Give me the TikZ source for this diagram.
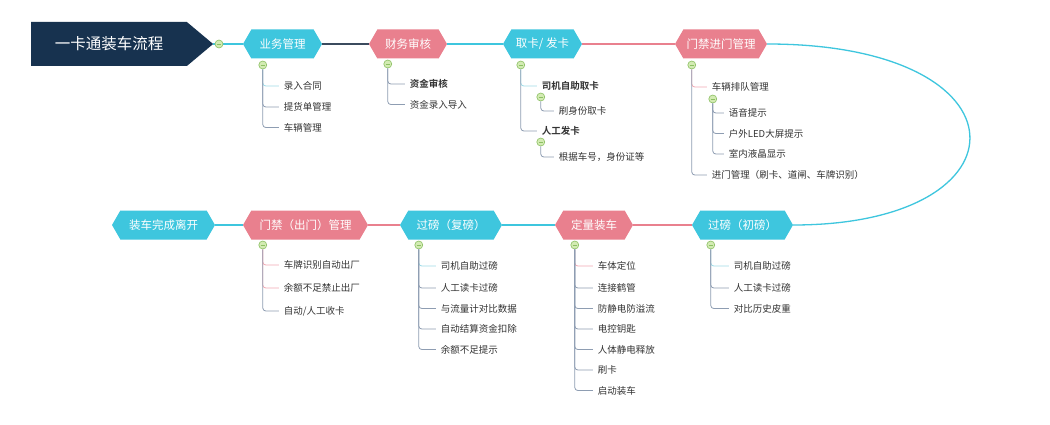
\documentclass[tikz,border=0pt]{standalone}
\usepackage{fontspec}
\setmainfont{Noto Sans CJK SC}[BoldFont={Noto Sans CJK SC Bold}]
\usetikzlibrary{shapes.symbols,calc,positioning}
\definecolor{navy}{HTML}{17324F}
\definecolor{topiccyan}{HTML}{3EC6DE}
\definecolor{topicpink}{HTML}{E9808E}
\definecolor{cyanlite}{HTML}{9FDCE8}
\definecolor{pinklite}{HTML}{F2A9B3}
\definecolor{twiggrey}{HTML}{8E9DB2}
\definecolor{knobfill}{HTML}{D3EBB3}
\definecolor{knobline}{HTML}{8CC063}
\definecolor{itemtext}{HTML}{333333}
\definecolor{darklink}{HTML}{3B4B5E}

\begin{document}
\begin{tikzpicture}[x=1pt,y=1pt,
    node distance=20.5pt,
    title/.style={signal,signal to=east,signal pointer angle=80,fill=navy,text=white,
      font=\fontsize{15.5}{16}\selectfont,minimum height=44pt,minimum width=182pt,inner sep=0pt},
    topic/.style={signal,signal to=west and east,signal pointer angle=120,minimum height=29pt,
      inner sep=0pt,text=white,font=\fontsize{11.5}{12}\selectfont},
    cyantopic/.style={topic,fill=topiccyan},
    pinktopic/.style={topic,fill=topicpink},
    knob/.style={circle,minimum size=8pt,inner sep=0pt,fill=knobfill,draw=knobline,line width=0.6pt,
      path picture={\draw[knobline,line width=0.7pt] ([xshift=-2.2pt]path picture bounding box.center)
        -- ([xshift=2.2pt]path picture bounding box.center);}},
    item/.style={anchor=west,inner sep=1pt,text=itemtext,font=\fontsize{9.5}{11}\selectfont},
    twig/.style={draw=twiggrey,line width=0.8pt,rounded corners=3pt,shorten >=4pt},
    link/.style={line width=1.3pt}]
  \fill[white] (0,0) rectangle (1050,-425);
  \useasboundingbox (0,0) rectangle (1050,-425);

  % main flow
  \node[title] (start) at (109,-44) {一卡通装车流程};
  \node[cyantopic,minimum width=79pt] (biz) at (282.5,-44) {业务管理};
  \node[pinktopic,minimum width=78pt] (fin) at (408,-44) {财务审核};
  \node[cyantopic,minimum width=79pt] (card) at (542.5,-44) {取卡/ 发卡};
  \node[pinktopic,minimum width=92pt] (gatein) at (721,-44) {门禁进门管理};
  \node[cyantopic,minimum width=101pt] (weigh) at (742.5,-225) {过磅（初磅）};
  \node[pinktopic,minimum width=78pt] (load) at (594,-225) {定量装车};
  \node[cyantopic,minimum width=102pt] (reweigh) at (451,-225) {过磅（复磅）};
  \node[pinktopic,minimum width=125pt] (gateout) at (305.5,-225) {门禁（出门）管理};
  \node[cyantopic,minimum width=103pt] (leave) at (163.5,-225) {装车完成离开};

  \draw[link,topiccyan] (start.east) -- (biz.west);
  \draw[link,darklink] (biz.east) -- (fin.west);
  \draw[link,topiccyan] (fin.east) -- (card.west);
  \draw[link,topicpink] (card.east) -- (gatein.west);
  \draw[link,topiccyan] (gatein.east) .. controls (1033,-44) and (1033,-225) .. (weigh.east);
  \draw[link,topicpink] (weigh.west) -- (load.east);
  \draw[link,topiccyan] (load.west) -- (reweigh.east);
  \draw[link,topicpink] (reweigh.west) -- (gateout.east);
  \draw[link,topiccyan] (gateout.west) -- (leave.east);
  \node[knob] (k0) at (219,-44) {};

  % 业务管理
  \node[knob] (k1) at ($(biz.west)+(20,-21)$) {};
  \node[item] (b1) at ($(k1)+(20,-21)$) {录入合同};
  \node[item] (b2) [below=21pt of b1.west,anchor=west] {提货单管理};
  \node[item] (b3) [below=of b2.west,anchor=west] {车辆管理};
  \draw[twig,draw=cyanlite] (k1.south) |- (b1.west);
  \draw[twig] (k1.south) |- (b2.west);
  \draw[twig] (k1.south) |- (b3.west);

  % 财务审核
  \node[knob] (k2) at ($(fin.west)+(19,-20)$) {};
  \node[item,font=\fontsize{9.5}{11}\selectfont\bfseries] (f1) at ($(k2)+(21,-20)$) {资金审核};
  \node[item] (f2) [below=of f1.west,anchor=west] {资金录入导入};
  \draw[twig] (k2.south) |- (f1.west);
  \draw[twig] (k2.south) |- (f2.west);

  % 取卡/发卡
  \node[knob] (k3) at ($(card.west)+(18,-21)$) {};
  \node[item,font=\fontsize{9.5}{11}\selectfont\bfseries] (c1) at ($(k3)+(20,-21)$) {司机自助取卡};
  \node[knob] (k3a) at ($(c1.west)+(0,-11)$) {};
  \node[item] (c2) at ($(k3a)+(17,-14)$) {刷身份取卡};
  \node[item,font=\fontsize{9.5}{11}\selectfont\bfseries] (c3) at ($(c1.west)+(0,-45)$) {人工发卡};
  \node[knob] (k3b) at ($(c3.west)+(0,-11)$) {};
  \node[item] (c4) at ($(k3b)+(17,-15)$) {根据车号，身份证等};
  \draw[twig,draw=cyanlite] (k3.south) |- (c1.west);
  \draw[twig] (k3.south) |- (c3.west);
  \draw[twig] (k3a.south) |- (c2.west);
  \draw[twig] (k3b.south) |- (c4.west);

  % 门禁进门管理
  \node[knob] (k4) at ($(gatein.west)+(17,-21)$) {};
  \node[item] (g1) at ($(k4)+(19,-22)$) {车辆排队管理};
  \node[knob] (k4a) at ($(g1.west)+(2,-12)$) {};
  \node[item] (g2) at ($(k4a)+(15,-14)$) {语音提示};
  \node[item] (g3) [below=of g2.west,anchor=west] {户外LED大屏提示};
  \node[item] (g4) [below=of g3.west,anchor=west] {室内液晶显示};
  \node[item] (g5) at ($(g1.west)+(0,-88)$) {进门管理（刷卡、道闸、车牌识别）};
  \draw[twig,draw=pinklite] (k4.south) |- (g1.west);
  \draw[twig] (k4.south) |- (g5.west);
  \draw[twig] (k4a.south) |- (g2.west);
  \draw[twig] (k4a.south) |- (g3.west);
  \draw[twig] (k4a.south) |- (g4.west);

  % 门禁（出门）管理
  \node[knob] (k5) at ($(gateout.west)+(20,-20)$) {};
  \node[item] (o1) at ($(k5)+(20,-20)$) {车牌识别自动出厂};
  \node[item] (o2) [below=23pt of o1.west,anchor=west] {余额不足禁止出厂};
  \node[item] (o3) [below=23pt of o2.west,anchor=west] {自动/人工收卡};
  \draw[twig,draw=pinklite] (k5.south) |- (o1.west);
  \draw[twig,draw=pinklite] (k5.south) |- (o2.west);
  \draw[twig] (k5.south) |- (o3.west);

  % 过磅（复磅）
  \node[knob] (k6) at ($(reweigh.west)+(19,-20)$) {};
  \node[item] (r1) at ($(k6)+(21,-21)$) {司机自助过磅};
  \node[item] (r2) [below=22pt of r1.west,anchor=west] {人工读卡过磅};
  \node[item] (r3) [below=of r2.west,anchor=west] {与流量计对比数据};
  \node[item] (r4) [below=of r3.west,anchor=west] {自动结算资金扣除};
  \node[item] (r5) [below=of r4.west,anchor=west] {余额不足提示};
  \draw[twig,draw=cyanlite] (k6.south) |- (r1.west);
  \draw[twig] (k6.south) |- (r2.west);
  \draw[twig] (k6.south) |- (r3.west);
  \draw[twig] (k6.south) |- (r4.west);
  \draw[twig] (k6.south) |- (r5.west);

  % 定量装车
  \node[knob] (k7) at ($(load.west)+(20,-20)$) {};
  \node[item] (l1) at ($(k7)+(22,-21)$) {车体定位};
  \node[item] (l2) [below=22pt of l1.west,anchor=west] {连接鹤管};
  \node[item] (l3) [below=of l2.west,anchor=west] {防静电防溢流};
  \node[item] (l4) [below=of l3.west,anchor=west] {电控钥匙};
  \node[item] (l5) [below=of l4.west,anchor=west] {人体静电释放};
  \node[item] (l6) [below=of l5.west,anchor=west] {刷卡};
  \node[item] (l7) [below=of l6.west,anchor=west] {启动装车};
  \draw[twig,draw=pinklite] (k7.south) |- (l1.west);
  \draw[twig] (k7.south) |- (l2.west);
  \draw[twig] (k7.south) |- (l3.west);
  \draw[twig] (k7.south) |- (l4.west);
  \draw[twig] (k7.south) |- (l5.west);
  \draw[twig] (k7.south) |- (l6.west);
  \draw[twig] (k7.south) |- (l7.west);

  % 过磅（初磅）
  \node[knob] (k8) at ($(weigh.west)+(19,-20)$) {};
  \node[item] (w1) at ($(k8)+(22,-21)$) {司机自助过磅};
  \node[item] (w2) [below=22pt of w1.west,anchor=west] {人工读卡过磅};
  \node[item] (w3) [below=of w2.west,anchor=west] {对比历史皮重};
  \draw[twig,draw=cyanlite] (k8.south) |- (w1.west);
  \draw[twig] (k8.south) |- (w2.west);
  \draw[twig] (k8.south) |- (w3.west);
\end{tikzpicture}
\end{document}
